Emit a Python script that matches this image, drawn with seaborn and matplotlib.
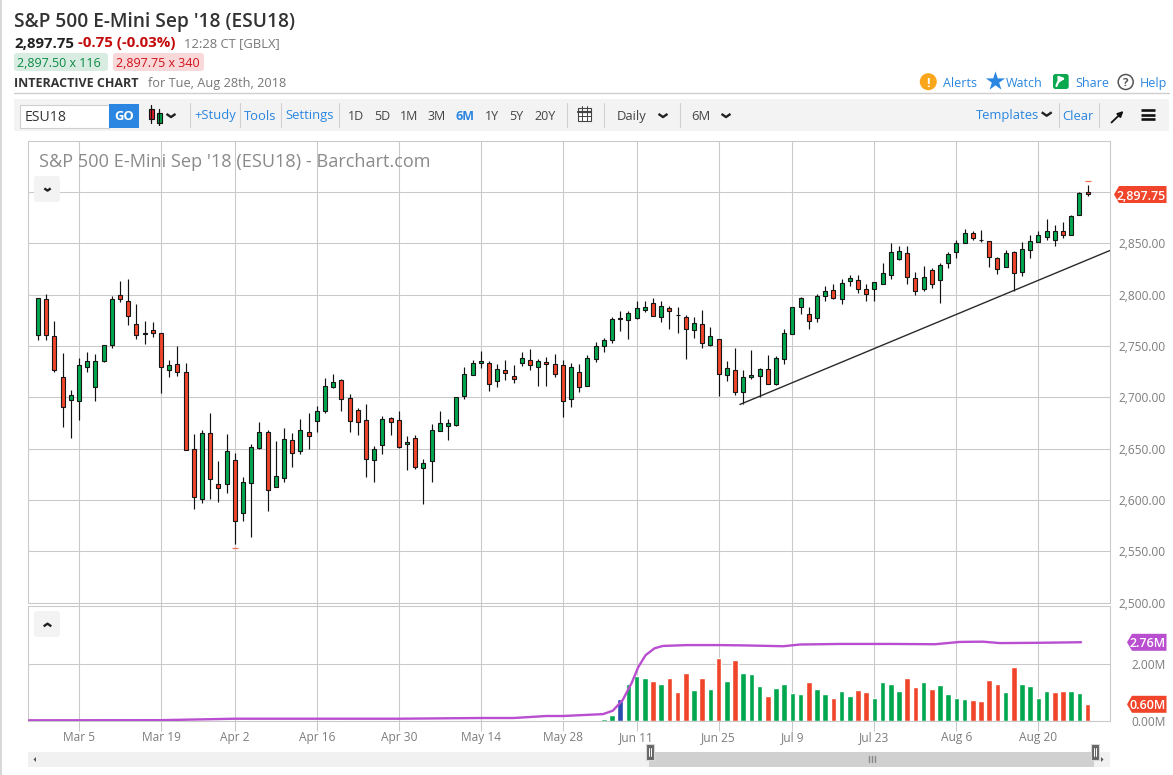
import matplotlib
matplotlib.use("Agg")
import matplotlib.pyplot as plt
from matplotlib.patches import Circle, FancyBboxPatch, Polygon, Rectangle
import pandas as pd
import seaborn as sns

# Daily candles
opens = [2761, 2796, 2760, 2720, 2697, 2696, 2730, 2710, 2735.5, 2751,
         2800, 2794, 2771, 2763, 2766, 2763, 2727, 2732, 2725, 2649.5,
         2600.7, 2665, 2615.3, 2615.3, 2638.8, 2587, 2616, 2650.5, 2666, 2613,
         2621, 2658, 2647.6, 2666, 2677, 2686.6, 2710, 2717, 2699, 2687.6,
         2678, 2639, 2653.4, 2680, 2678, 2654.4, 2660, 2631, 2638, 2667,
         2672, 2673, 2701, 2722, 2733.6, 2733.6, 2716, 2727, 2721, 2733.6,
         2736.5, 2729.6, 2734.5, 2732.6, 2731.6, 2698.4, 2724.8, 2711, 2737.5, 2750,
         2756, 2777, 2775.6, 2777.5, 2785.3, 2792, 2778.5, 2787.3, 2780.5, 2778.5,
         2765.8, 2771.7, 2751, 2757, 2721.8, 2726.7, 2705, 2720, 2720.8, 2727.7,
         2713, 2737.5, 2762, 2788.3, 2781.4, 2777.5, 2799, 2805, 2796, 2813,
         2814.7, 2806, 2806, 2810.7, 2819.5, 2835, 2841, 2816.6, 2806, 2824.4,
         2814.7, 2831, 2842, 2850, 2860.6, 2853.7, 2852.8, 2836, 2827, 2842,
         2822.5, 2844, 2851.8, 2856.7, 2853.7, 2862.5, 2858.6, 2878, 2899.7]
closes = [2797, 2761, 2727, 2691, 2702, 2731, 2735.5, 2735.5, 2751, 2796,
          2796, 2779.5, 2761, 2762, 2763, 2730, 2731, 2725, 2648.5, 2602.6,
          2665, 2620, 2612, 2647.6, 2579, 2617, 2651.5, 2666, 2610, 2623,
          2659, 2645.6, 2668, 2662, 2686.6, 2711, 2715, 2698, 2677, 2676,
          2640, 2649.5, 2679, 2676, 2651.5, 2656, 2632, 2636, 2668, 2675,
          2675, 2700, 2723, 2733.6, 2735.5, 2713, 2727.7, 2724, 2718, 2738.4,
          2731.6, 2735.5, 2732.6, 2722.8, 2696.4, 2729.6, 2710, 2738.4, 2750, 2756,
          2776.5, 2776.5, 2782.4, 2787.3, 2788.3, 2779.5, 2789, 2784.4, 2780.5, 2766.8,
          2772.6, 2753, 2760, 2722.8, 2728.7, 2705, 2720, 2721.8, 2727.7, 2713,
          2738.4, 2763, 2788.3, 2797, 2774.6, 2799, 2804, 2796.7, 2811.7, 2816.6,
          2806, 2801, 2812.7, 2821.5, 2842, 2843, 2817.6, 2804, 2817.6, 2810.7,
          2829.3, 2840, 2850.8, 2860.6, 2855.7, 2853.7, 2837, 2825.4, 2841, 2821.5,
          2845, 2852.8, 2858.6, 2862.5, 2861.6, 2858.6, 2877, 2898.7, 2897.75]
highs = [2797, 2801, 2774, 2743, 2707, 2738, 2744, 2742, 2751, 2799,
         2813, 2815, 2790.5, 2774, 2773, 2763, 2736.5, 2750, 2733.5, 2664.5,
         2668, 2685, 2637.8, 2664.5, 2645.6, 2622, 2654.4, 2676, 2668, 2657,
         2670, 2665, 2679, 2685, 2692, 2719, 2723, 2718, 2703.6, 2690,
         2693.5, 2652.4, 2682, 2681, 2687, 2662.5, 2663, 2640, 2674, 2686.6,
         2679, 2700, 2729.6, 2736.5, 2745.6, 2735.5, 2732.6, 2736.5, 2731.6, 2744.3,
         2747, 2737.5, 2739.4, 2742.3, 2736.5, 2733.6, 2732.6, 2741.4, 2754, 2758,
         2778.5, 2783.7, 2783.7, 2794, 2794, 2796.4, 2794, 2789, 2787.6, 2780.5,
         2778.5, 2785.3, 2768.7, 2757, 2735.5, 2748, 2726.7, 2746, 2728.7, 2741.4,
         2740.4, 2766.8, 2788.3, 2798, 2788.3, 2801, 2808, 2810, 2815.6, 2819,
         2819, 2810.7, 2812.7, 2831, 2850, 2847, 2847, 2822.5, 2828, 2826.4,
         2831, 2842, 2853.7, 2864.5, 2862.5, 2863.5, 2852.8, 2837, 2844, 2843,
         2851.8, 2857.7, 2861.6, 2874, 2868.4, 2870.4, 2878, 2899.7, 2906.8]
lows = [2756, 2756, 2725, 2671, 2660, 2678, 2725, 2696, 2734, 2748,
        2793, 2770, 2757, 2752, 2759, 2704, 2719.5, 2720.5, 2648.5, 2591,
        2597.4, 2601, 2598, 2607, 2557, 2579, 2564, 2649.5, 2589, 2613,
        2617, 2631.6, 2645, 2650, 2666, 2684.4, 2709, 2687, 2666, 2663,
        2622, 2617, 2645, 2663, 2650.5, 2628.7, 2630, 2596.4, 2617, 2667,
        2658, 2671.6, 2698, 2722, 2729, 2706, 2710, 2716.6, 2713.7, 2730.3,
        2727, 2710.7, 2710.7, 2719.6, 2680.5, 2691, 2705, 2711, 2734.5, 2744.3,
        2753, 2764.5, 2756.7, 2776, 2783.4, 2779.5, 2773, 2766.5, 2762.5, 2737,
        2758, 2748, 2750, 2701, 2716, 2702, 2693.5, 2718, 2700, 2713,
        2712, 2732.6, 2762, 2781, 2766.5, 2773.6, 2793.5, 2795.4, 2791, 2808,
        2801.6, 2794, 2794, 2810, 2815, 2834, 2810, 2799.7, 2804, 2806.5,
        2792, 2826, 2836, 2850, 2853.7, 2851.8, 2827, 2820.5, 2827, 2804,
        2818, 2835.8, 2851.5, 2853.7, 2847.6, 2855.7, 2857.7, 2878, 2895.8]
marker_days = [24, 128]
marker_prices = [2553.5, 2910.7]

# Volume, in millions
vol_days = [25, 37, 47, 61, 62] + list(range(64, 129))
vol_vals = [.045, .045, .045, .045, .045,
            .045, .045, .045, .045, .045, .08, .22, .78, 1.30, 1.58, 1.51, 1.41, 1.30, 1.51, 1.02, 1.69,
            1.09, 1.51, 1.13, 2.21, 1.41, 2.14, 1.69, 1.65, 1.23, .88,
            1.16, 1.30, .99, .95, 1.37, 1.13, .95, .81, 1.06, .88,
            1.09, 1.02, .81, 1.37, 1.30, 1.06, 1.51, 1.20, 1.37, 1.13,
            1.27, .95, .81, .78, .74, .71, 1.44, 1.30, 1.02, 1.90,
            1.30, 1.23, .81, 1.06, 1.02, 1.06, 1.06, .99, .60]
# u = green, d = red, b = blue
vol_dirs = list("uduud" + "duduuuu" + "b" + "uuududdd" + "udududuuud"
                + "uuuuduuduu" + "dduuuuddud" + "uuuuddddud" + "uuuudduud")

# Volume average line
avg_days = [-1.1, 15, 24, 34, 44, 54, 58, 62, 64, 68.9, 70.1, 71.3, 72.4, 73.2, 74.1, 75.2, 76.2,
            79.1, 82.9, 86, 90.9, 92.9, 97.8, 103.9, 109.4, 112.4, 115.2, 117.3, 122, 127.2]
avg_vals = [.035, .04, .09, .09, .09, .115, .115, .185, .185, .25, .37, .74, 1.34, 1.89, 2.31, 2.55, 2.63,
            2.66, 2.66, 2.65, 2.62, 2.68, 2.70, 2.70, 2.69, 2.77, 2.78, 2.73, 2.74, 2.76]

# Hand-drawn trend line
trend_days = [85.6, 130.7]
trend_prices = [2693, 2843]

date_days = [5, 15, 24, 34, 44, 54, 64, 73, 83, 92, 102, 112, 122]
date_labels = ["Mar 5", "Mar 19", "Apr 2", "Apr 16", "Apr 30", "May 14", "May 28",
               "Jun 11", "Jun 25", "Jul 9", "Jul 23", "Aug 6", "Aug 20"]
price_ticks = [2500, 2550, 2600, 2650, 2700, 2750, 2800, 2850, 2900]
price_labels = ["2,500.00", "2,550.00", "2,600.00", "2,650.00", "2,700.00",
                "2,750.00", "2,800.00", "2,850.00", ""]
vol_ticks = [0, 2]
vol_labels = ["0.00M", "2.00M"]

W, H = 1173, 775
GRID = "#c9c9c9"
RED = "#f0452b"
GREEN = "#00a74f"
BLUE = "#2a86e0"
PURPLE = "#b94fd0"
LABEL = "#7d7d7d"

sns.set_theme(style="whitegrid")
plt.rcParams["font.family"] = ["Open Sans", "DejaVu Sans"]
plt.rcParams["axes.edgecolor"] = GRID
plt.rcParams["grid.color"] = GRID
plt.rcParams["grid.linewidth"] = 0.75
plt.rcParams["axes.linewidth"] = 0.75

fig = plt.figure(figsize=(W / 100, H / 100), dpi=100, facecolor="white")


def px_axes(left, top, right, bottom):
    return fig.add_axes([left / W, 1 - bottom / H, (right - left) / W, (bottom - top) / H])


ax = px_axes(28.5, 140.5, 1109.5, 602.5)
vax = px_axes(28.5, 605.5, 1109.5, 721.3)
x_lim = ((28.5 - 38) / 8.2, (1109.5 - 38) / 8.2)

# Price panel
candles = pd.DataFrame({"day": range(len(opens)), "open": opens, "close": closes,
                        "high": highs, "low": lows})
candles["top"] = candles[["open", "close"]].max(axis=1)
candles["bottom"] = candles[["open", "close"]].min(axis=1)
candles["color"] = [GREEN if c >= o else RED for o, c in zip(opens, closes)]

ax.vlines(candles["day"], candles["low"], candles["high"], color="#111111", lw=0.85, zorder=3)
ax.bar(candles["day"], candles["top"] - candles["bottom"], bottom=candles["bottom"], width=0.5,
       color=candles["color"], edgecolor="#161616", linewidth=0.8, zorder=4)
sns.lineplot(x=trend_days, y=trend_prices, color="#2a2a2a", lw=1.0, ax=ax, zorder=5)
ax.scatter(marker_days, marker_prices, marker="_", s=16, color="#f4705a", lw=0.9, zorder=5)

ax.set_xlim(*x_lim)
ax.set_ylim(2500, 2500 + 462 / 1.026)
ax.set_xticks(date_days)
ax.set_xticklabels([])
ax.set_yticks(price_ticks)
ax.yaxis.tick_right()
ax.set_yticklabels(price_labels, fontsize=8.6, color=LABEL)
ax.tick_params(axis="y", length=0, pad=6.5)
ax.tick_params(axis="x", length=2.2, width=0.75, color=GRID, bottom=True)
ax.set_xlabel("")
ax.set_ylabel("")
ax.set_axisbelow(True)

# Volume panel
vol = pd.DataFrame({"day": vol_days, "volume": vol_vals, "dir": vol_dirs})
sns.barplot(data=vol, x="day", y="volume", hue="dir", native_scale=True, dodge=False, width=0.66,
            palette={"u": GREEN, "d": RED, "b": "#2a4db0"}, legend=False, saturation=1, ax=vax, zorder=3)
sns.lineplot(x=avg_days, y=avg_vals, color=PURPLE, lw=1.7, ax=vax, zorder=5)
vax.set_xlim(*x_lim)
vax.set_ylim(0, 115.8 / 28.65)
vax.set_xticks(date_days)
vax.set_xticklabels(date_labels, fontsize=8.6, color=LABEL)
vax.set_yticks(vol_ticks)
vax.yaxis.tick_right()
vax.set_yticklabels(vol_labels, fontsize=8.6, color=LABEL)
vax.tick_params(axis="y", length=0, pad=15.5)
vax.tick_params(axis="x", length=7, width=0.75, color=GRID, bottom=True, pad=0)
vax.set_xlabel("")
vax.set_ylabel("")
vax.set_axisbelow(True)

# Page furniture in pixel coordinates
ui = fig.add_axes([0, 0, 1, 1], zorder=10)
ui.set_xlim(0, W)
ui.set_ylim(H, 0)
ui.axis("off")
ui.patch.set_alpha(0)


def label(x, y, s, size=9, color="#555555", weight="normal", ha="left"):
    ui.text(x, y, s, fontsize=size * 0.72, color=color, fontweight=weight, ha=ha, va="center_baseline")


def box(x0, y0, x1, y1, color, edge="none", round_px=0):
    if round_px:
        ui.add_patch(FancyBboxPatch((x0, y0), x1 - x0, y1 - y0, boxstyle=f"round,pad=0,rounding_size={round_px}",
                                    fc=color, ec=edge, lw=0.7))
    else:
        ui.add_patch(Rectangle((x0, y0), x1 - x0, y1 - y0, fc=color, ec=edge, lw=0.8))


def chevron(x, y, up=False, s=4.5, color="#222222"):
    d = -s * 0.7 if up else s * 0.7
    ui.plot([x - s, x, x + s], [y - d / 2, y + d / 2, y - d / 2], color=color, lw=1.7, solid_capstyle="butt")


def tag(x0, y, s, color):
    ui.add_patch(Polygon([(x0, y), (x0 + 5, y - 8.5), (1166.5, y - 8.5), (1166.5, y + 8.5), (x0 + 5, y + 8.5)],
                         fc=color, ec="none"))
    label(1165.5, y, s, 12.5, "white", "semibold", ha="right")


ui.add_patch(Rectangle((0, 0), 1.5, H, fc="#d8d8d8", ec="none"))
label(14, 19, "S&P 500 E-Mini Sep '18 (ESU18)", 19.2, "#333333", "semibold")
label(14, 42, "2,897.75", 15, "#222222", "bold")
label(78, 42, "-0.75 (-0.03%)", 15, "#c40a0a", "bold")
label(184, 42, "12:28 CT [GBLX]", 13, "#777777")
box(14, 53, 108, 71, "#d9ece1", round_px=3)
box(113, 53, 204, 71, "#f8d8d8", round_px=3)
label(17, 62, "2,897.50 x 116", 12.5, "#0a8a45")
label(116, 62, "2,897.75 x 340", 12.5, "#d0101a")
label(14, 82, "INTERACTIVE CHART", 12.5, "#333333", "bold")
label(148, 82, "for Tue, Aug 28th, 2018", 12.8, "#777777")
ui.plot([14, 1169], [93.3, 93.3], color="#cfcfcf", lw=1.0)

# Top right links
ui.add_patch(Circle((928.3, 81.7), 8.5, fc="#f9a61a", ec="none"))
label(928.3, 81.7, "!", 13, "white", "bold", ha="center")
label(942.7, 82, "Alerts", 12.5, BLUE)
ui.scatter([994.7], [81], marker="*", s=210, color=BLUE, lw=0)
label(1006, 82, "Watch", 12.5, BLUE)
box(1053, 74, 1068.7, 89, "#0aa84f", round_px=2.5)
ui.annotate("", xy=(1065.5, 78.5), xytext=(1056.5, 86),
            arrowprops=dict(arrowstyle="-|>", color="white", lw=1.6, mutation_scale=8, shrinkA=0, shrinkB=0,
                            connectionstyle="arc3,rad=-0.35"))
label(1075, 82, "Share", 12.5, BLUE)
ui.add_patch(Circle((1125.7, 82), 7.5, fc="white", ec="#555555", lw=1.1))
label(1125.7, 82, "?", 11.5, "#555555", "bold", ha="center")
label(1140, 82, "Help", 12.5, BLUE)

# Toolbar
box(14, 99, 1169, 131, "#f3f3f3")
box(19.5, 104.5, 109, 127.5, "white", edge="#cfcfcf")
label(25, 115.5, "ESU18", 14, "#333333")
box(109, 104, 139, 128, BLUE)
label(124, 115.5, "GO", 13, "white", "bold", ha="center")
ui.plot([151, 151], [105, 123], color="#111111", lw=0.9)
ui.plot([159, 159], [109, 125], color="#111111", lw=0.9)
box(148.5, 109, 153.5, 119, "#e0202a", edge="#111111")
box(156.5, 113, 161.5, 123, GREEN, edge="#111111")
chevron(171, 115.5)
for sep_x in [189.5, 239.5, 280.5, 338.5, 566.5, 603.5, 679.5, 1058.5, 1098.5]:
    ui.plot([sep_x, sep_x], [103, 127], color="#d0d0d0", lw=0.8)
label(194, 114.5, "+Study", 13, BLUE)
label(244, 114.5, "Tools", 13, BLUE)
label(285, 114.5, "Settings", 13, BLUE)
for x_pos, s in zip([348, 374, 400, 428, 485, 509, 534], ["1D", "5D", "1M", "3M", "1Y", "5Y", "20Y"]):
    label(x_pos, 115, s, 12.5, "#444444")
label(456, 115, "6M", 12.5, BLUE, "bold")
box(578, 108, 591, 121, "white", edge="#444444")
ui.plot([578, 591], [111.5, 111.5], color="#444444", lw=1.6)
for cal_x in [582, 587]:
    ui.plot([cal_x, cal_x], [106, 121], color="#444444", lw=0.7)
ui.plot([578, 591], [116, 116], color="#444444", lw=0.7)
label(617, 115, "Daily", 13, "#444444")
chevron(663, 115.5)
label(691, 115, "6M", 13, "#444444")
chevron(726, 115.5)
label(975.7, 114.5, "Templates", 13, BLUE)
chevron(1046.7, 114, s=5)
label(1062.5, 114.5, "Clear", 13, BLUE)
ui.annotate("", xy=(1123.5, 111), xytext=(1111.5, 122.5),
            arrowprops=dict(arrowstyle="-|>", color="#111111", lw=1.3, mutation_scale=8, shrinkA=0, shrinkB=0))
for y_pos in [110, 114.5, 119]:
    ui.plot([1140.7, 1155.3], [y_pos, y_pos], color="#111111", lw=1.9, solid_capstyle="butt")

# Chart overlays
label(39, 160, "S&P 500 E-Mini Sep '18 (ESU18) - Barchart.com", 18.2, "#8a8a8a")
box(34, 176, 60, 202, "#f3f3f3", round_px=3)
chevron(47.5, 189.5, s=3.2)
box(34, 611, 60, 637, "#f3f3f3", round_px=3)
chevron(47.5, 625, up=True, s=3.8)
tag(1114, 194.5, "2,897.75", RED)
tag(1127, 642.3, "2.76M", PURPLE)
tag(1127, 704.3, "0.60M", RED)

# Scroll bar
box(28, 752, 1109.5, 767, "#f1f1f1")
box(649, 752, 1094, 767, "#d0d0d0")
for x0 in [645.7, 1090.5]:
    box(x0, 744, x0 + 8, 760, "#666666", edge="#d8d8d8")
    for dx in [3, 5]:
        ui.plot([x0 + dx, x0 + dx], [748, 756], color="white", lw=0.7)
for dx in [869, 872, 875]:
    ui.plot([dx, dx], [756, 762], color="#888888", lw=1.0)
ui.add_patch(Polygon([(33.5, 759.5), (36, 757), (36, 762)], fc="#555555", ec="none"))
ui.add_patch(Polygon([(1103.5, 759.5), (1101, 757), (1101, 762)], fc="#555555", ec="none"))

fig.savefig("out.png", dpi=100, facecolor="white")
